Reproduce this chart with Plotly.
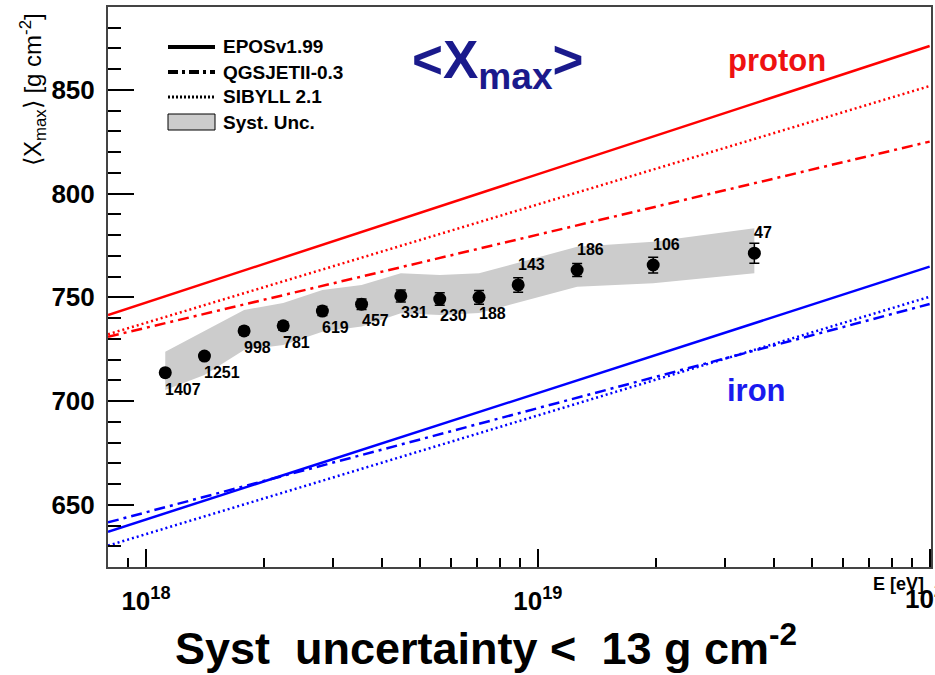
import math
import plotly.graph_objects as go

# ---------------- data ----------------
energy = [1.12e18, 1.41e18, 1.78e18, 2.24e18, 2.82e18, 3.55e18, 4.47e18,
          5.62e18, 7.08e18, 8.91e18, 1.26e19, 1.97e19, 3.57e19]
xmax = [713.7, 721.7, 733.8, 736.3, 743.4, 746.7, 750.7,
        749.2, 750.0, 756.0, 763.2, 765.6, 771.3]
stat_err = [1.5, 1.6, 1.8, 2.0, 2.2, 2.5, 2.9, 3.0, 3.3, 3.5, 3.1, 3.8, 4.8]
band_hi = [723.8, 733.8, 743.9, 747.3, 753.6, 756.0, 761.6,
           760.8, 761.6, 766.7, 774.4, 776.8, 783.3]
band_lo = [705.3, 712.6, 724.6, 727.0, 733.4, 735.9, 742.3,
           741.5, 742.5, 747.3, 755.1, 756.8, 761.6]
n_events = ["1407", "1251", "998", "781", "619", "457", "331",
            "230", "188", "143", "186", "106", "47"]
label_below = [True, True, True, True, True, True, True,
               True, True, False, False, False, False]

model_energy = [8e17, 1e20]
epos_p = [741.5, 871.2]
sibyll_p = [732.2, 851.9]
qgsjet_p = [731.0, 825.1]
epos_fe = [637.0, 764.8]
qgsjet_fe = [641.5, 746.8]
sibyll_fe = [630.3, 750.3]

legend_names = ["EPOSv1.99", "QGSJETII-0.3", "SIBYLL 2.1", "Syst. Unc."]

x_major = [1e18, 1e19, 1e20]
x_major_text = ["10<sup>18</sup>", "10<sup>19</sup>", ""]
x_edge_label = "10<sup>20</sup>"
x_minor = [8e17, 9e17, 2e18, 3e18, 4e18, 5e18, 6e18, 7e18, 8e18, 9e18,
           2e19, 3e19, 4e19, 5e19, 6e19, 7e19, 8e19, 9e19]
y_major = [650, 700, 750, 800, 850]
y_minor = [620, 630, 640, 660, 670, 680, 690, 710, 720, 730, 740, 760,
           770, 780, 790, 810, 820, 830, 840, 860, 870, 880, 890]

RED = "#ff0000"
BLUE = "#0000ff"
BAND = "#cccccc"
QGS_DASH = "11px,5px,3px,5px"
SIB_DOT = "2px,3px"

fig = go.Figure()

# systematic band
fig.add_trace(go.Scatter(
    x=energy + energy[::-1], y=band_hi + band_lo[::-1],
    fill="toself", fillcolor=BAND, line=dict(width=0),
    mode="lines", hoverinfo="skip", showlegend=False))

# model lines
for yv, col, dash in [(epos_p, RED, "solid"), (sibyll_p, RED, SIB_DOT),
                      (qgsjet_p, RED, QGS_DASH), (epos_fe, BLUE, "solid"),
                      (qgsjet_fe, BLUE, QGS_DASH), (sibyll_fe, BLUE, SIB_DOT)]:
    fig.add_trace(go.Scatter(x=model_energy, y=yv, mode="lines",
                             line=dict(color=col, width=2.5, dash=dash),
                             showlegend=False))

# data points
fig.add_trace(go.Scatter(
    x=energy, y=xmax, mode="markers",
    marker=dict(color="black", size=13),
    error_y=dict(type="data", array=stat_err, color="black",
                 thickness=1.5, width=5),
    showlegend=False))

FONT = "Liberation Sans, Arial, Helvetica, sans-serif"


def px_x(p):
    return (p - 108) / 823.0


def px_y(p):
    return (567 - p) / 560.0


ann = []
for e, v, t, below in zip(energy, xmax, n_events, label_below):
    ann.append(dict(x=math.log10(e), y=v, xref="x", yref="y", text=t,
                    showarrow=False, xanchor="left",
                    yanchor="top" if below else "bottom",
                    yshift=-6 if below else 10, xshift=-2,
                    font=dict(family=FONT, size=16, color="black", weight="bold")))

# manual legend
shapes = []
leg_rows = [47, 72, 97, 122]
leg_styles = [dict(width=4, dash="solid"), dict(width=4, dash="10px,4px,3px,4px"),
              dict(width=3, dash="2px,2px")]
for row, st in zip(leg_rows[:3], leg_styles):
    shapes.append(dict(type="line", xref="paper", yref="paper",
                       x0=px_x(168), x1=px_x(215), y0=px_y(row), y1=px_y(row),
                       line=dict(color="black", width=st["width"], dash=st["dash"])))
shapes.append(dict(type="rect", xref="paper", yref="paper",
                   x0=px_x(168), x1=px_x(215), y0=px_y(130), y1=px_y(114),
                   fillcolor=BAND, line=dict(color="black", width=1)))
for row, name in zip(leg_rows, legend_names):
    ann.append(dict(x=px_x(221), y=px_y(row), xref="paper", yref="paper",
                    text=name, showarrow=False, xanchor="left", yanchor="middle",
                    font=dict(family=FONT, size=19, color="black", weight="bold")))

ann += [
    dict(x=math.log10(x_major[-1]), y=0, xref="x", yref="paper",
         text=x_edge_label, showarrow=False, xanchor="center", yanchor="top",
         yshift=-12,
         font=dict(family=FONT, size=26, color="black", weight="bold")),
    dict(x=px_x(497), y=px_y(64), xref="paper", yref="paper",
         text="&lt;X<sub>max</sub>&gt;", showarrow=False,
         xanchor="center", yanchor="middle",
         font=dict(family=FONT, size=53, color="#1a1a8c", weight="bold")),
    dict(x=px_x(777), y=px_y(60), xref="paper", yref="paper",
         text="proton", showarrow=False, xanchor="center", yanchor="middle",
         font=dict(family=FONT, size=31, color="#ee1111", weight="bold")),
    dict(x=px_x(756), y=px_y(390), xref="paper", yref="paper",
         text="iron", showarrow=False, xanchor="center", yanchor="middle",
         font=dict(family=FONT, size=31, color="#1a1aee", weight="bold")),
    dict(x=px_x(926), y=px_y(584), xref="paper", yref="paper",
         text="E [eV]", showarrow=False, xanchor="right", yanchor="middle",
         font=dict(family=FONT, size=18, color="black", weight="bold")),
    dict(x=px_x(33), y=px_y(90), xref="paper", yref="paper",
         text="⟨X<sub>max</sub>⟩ [g cm<sup>-2</sup>]", showarrow=False,
         textangle=-90, xanchor="center", yanchor="middle",
         font=dict(family=FONT, size=24, color="black")),
    dict(x=px_x(486), y=px_y(645), xref="paper", yref="paper",
         text="Syst  uncertainty &lt;  13 g cm<sup>-2</sup>", showarrow=False,
         xanchor="center", yanchor="middle",
         font=dict(family=FONT, size=45, color="black", weight="bold")),
]

fig.update_layout(
    width=935, height=675,
    margin=dict(l=108, r=4, t=7, b=108),
    paper_bgcolor="white", plot_bgcolor="white",
    annotations=ann, shapes=shapes, showlegend=False,
    xaxis=dict(type="log", range=[math.log10(8e17), math.log10(1.008e20)],
               showgrid=False, zeroline=False, automargin=False,
               showline=True, linecolor="#444444", linewidth=2, mirror=True,
               tickmode="array", tickvals=x_major, ticktext=x_major_text,
               ticks="inside", ticklen=18, tickwidth=1.5, tickcolor="black",
               ticklabelstandoff=10,
               minor=dict(tickmode="array", tickvals=x_minor, ticks="inside",
                          ticklen=9, tickwidth=1.5, tickcolor="black"),
               tickfont=dict(family=FONT, size=26, color="black", weight="bold")),
    yaxis=dict(range=[620, 890], showgrid=False, zeroline=False, automargin=False,
               showline=True, linecolor="#444444", linewidth=2, mirror=True,
               tickmode="array", tickvals=y_major,
               ticks="inside", ticklen=26, tickwidth=1.5, tickcolor="black",
               ticklabelstandoff=6,
               minor=dict(tickmode="array", tickvals=y_minor, ticks="inside",
                          ticklen=13, tickwidth=1.5, tickcolor="black"),
               tickfont=dict(family=FONT, size=26, color="black", weight="bold")),
)

fig.write_html("out.html")
